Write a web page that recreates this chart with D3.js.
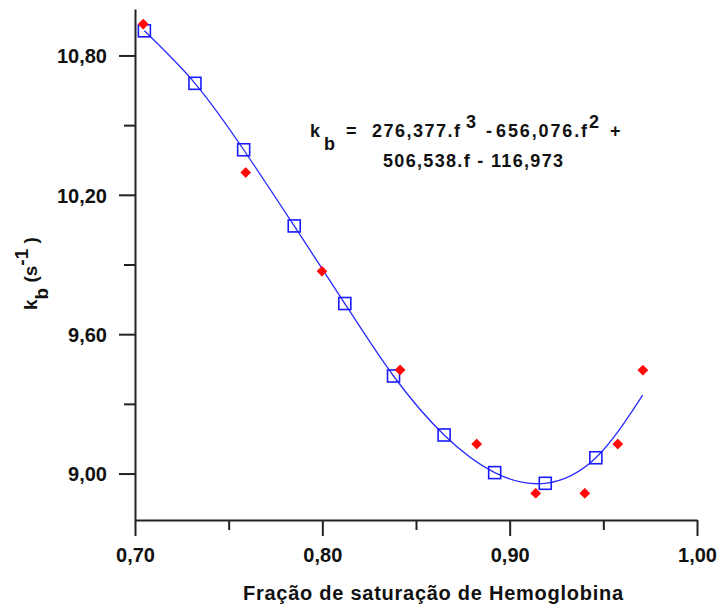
<!DOCTYPE html>
<html>
<head>
<meta charset="utf-8">
<script src="https://cdn.jsdelivr.net/npm/d3@7"></script>
<style>
  html, body { margin: 0; padding: 0; background: #fff; }
  svg { display: block; }
  text { font-family: "Liberation Sans", Arial, sans-serif; font-weight: bold; fill: #111; }
</style>
</head>
<body>
<svg id="chart" width="718" height="607"></svg>
<script>
// Fitted values (open squares)
const fitX = [0.705, 0.732, 0.758, 0.785, 0.812, 0.838, 0.865, 0.892, 0.919, 0.946];
const fitY = [10.906, 10.680, 10.394, 10.066, 9.732, 9.420, 9.166, 9.004, 8.958, 9.068];
// Fitted curve points
const curveX = [0.705, 0.732, 0.758, 0.785, 0.812, 0.838, 0.865, 0.892, 0.919, 0.946, 0.971];
const curveY = [10.906, 10.680, 10.394, 10.066, 9.732, 9.420, 9.166, 9.004, 8.958, 9.068, 9.338];
// Measured values (red diamonds)
const obsX = [0.7044, 0.7591, 0.7998, 0.8415, 0.8824, 0.9139, 0.9401, 0.9577, 0.9711];
const obsY = [10.935, 10.296, 9.871, 9.446, 9.127, 8.915, 8.915, 9.127, 9.445];
// Ticks
const xMajor = [0.70, 0.80, 0.90, 1.00];
const xMinor = [0.75, 0.85, 0.95];
const yMajor = [9.00, 9.60, 10.20, 10.80];
const yMinor = [9.30, 9.90, 10.50];
const fmt = d => d3.format(".2f")(d).replace(".", ",");

const svg = d3.select("#chart");
const x = d3.scaleLinear().domain([0.70, 1.00]).range([135, 697]);
const y = d3.scaleLinear().domain([8.8, 11.0]).range([520, 9]);

const axisColor = "#222";

// Y axis
const gy = svg.append("g").attr("transform", "translate(135,0)");
gy.call(d3.axisLeft(y).tickValues(yMajor).tickSize(16).tickFormat(fmt).tickSizeOuter(0));
gy.append("g").call(d3.axisLeft(y).tickValues(yMinor).tickSize(11).tickFormat("").tickSizeOuter(0))
  .select(".domain").remove();
gy.selectAll("line").attr("stroke", axisColor).attr("stroke-width", 2);
gy.selectAll(".domain").attr("stroke", axisColor).attr("stroke-width", 2);
gy.selectAll(".tick text").attr("x", -28).attr("dy", "0.36em")
  .style("font-size", "20px").style("font-family", "Liberation Sans, Arial, sans-serif")
  .style("font-weight", "bold").attr("fill", "#111");

// X axis
const gx = svg.append("g").attr("transform", "translate(0,520)");
gx.call(d3.axisBottom(x).tickValues(xMajor).tickSize(16).tickFormat(fmt).tickSizeOuter(0));
gx.append("g").call(d3.axisBottom(x).tickValues(xMinor).tickSize(10).tickFormat("").tickSizeOuter(0))
  .select(".domain").remove();
gx.selectAll("line").attr("stroke", axisColor).attr("stroke-width", 2);
gx.selectAll(".domain").attr("stroke", axisColor).attr("stroke-width", 2);
gx.selectAll(".tick text").attr("y", 42).attr("dy", 0)
  .style("font-size", "20px").style("font-family", "Liberation Sans, Arial, sans-serif")
  .style("font-weight", "bold").attr("fill", "#111");

// Fitted curve
const curveData = curveX.map((d, i) => [d, curveY[i]]);
svg.append("path")
  .datum(curveData)
  .attr("fill", "none")
  .attr("stroke", "#2a2aff")
  .attr("stroke-width", 1.3)
  .attr("d", d3.line().x(d => x(d[0])).y(d => y(d[1])).curve(d3.curveNatural));

// Open squares
svg.append("g").selectAll("rect")
  .data(fitX.map((d, i) => [d, fitY[i]]))
  .join("rect")
  .attr("x", d => x(d[0]) - 6)
  .attr("y", d => y(d[1]) - 6)
  .attr("width", 12).attr("height", 12)
  .attr("fill", "none")
  .attr("stroke", "#1a1aff")
  .attr("stroke-width", 1.6);

// Red diamonds
svg.append("g").selectAll("path")
  .data(obsX.map((d, i) => [d, obsY[i]]))
  .join("path")
  .attr("transform", d => `translate(${x(d[0])},${y(d[1])}) rotate(45)`)
  .attr("d", d3.symbol().type(d3.symbolSquare).size(44))
  .attr("fill", "#ff0a0a")
  .attr("stroke", "#ff0a0a")
  .attr("stroke-width", 1)
  .attr("stroke-linejoin", "round");

// Equation
const eq = svg.append("g").style("font-size", "18px");
function t(txt, xx, yy, len) {
  const e = eq.append("text").attr("x", xx).attr("y", yy).text(txt);
  if (len) e.attr("textLength", len).attr("lengthAdjust", "spacing");
  return e;
}
t("k", 310, 137);
t("b", 324, 150);
t("=", 346, 137, 16);
t("276,377.f", 372, 137, 88);
t("3", 466, 128);
t("-", 486, 137);
t("656,076.f", 496, 137, 91);
t("2", 589, 128);
t("+", 610, 137);
t("506,538.f - 116,973", 383, 167, 180);

// Axis titles
svg.append("text")
  .attr("x", 243).attr("y", 600)
  .attr("textLength", 380).attr("lengthAdjust", "spacing")
  .style("font-size", "20px")
  .text("Fração de saturação de Hemoglobina");

const yt = svg.append("text")
  .attr("transform", "translate(37,310) rotate(-90)")
  .style("font-size", "19px");
yt.append("tspan").text("k");
yt.append("tspan").attr("dy", 11).text("b");
yt.append("tspan").attr("dy", -11).text(" (s");
yt.append("tspan").attr("dy", -9).text("-1");
yt.append("tspan").attr("dy", 9).text(" )");
</script>
</body>
</html>
